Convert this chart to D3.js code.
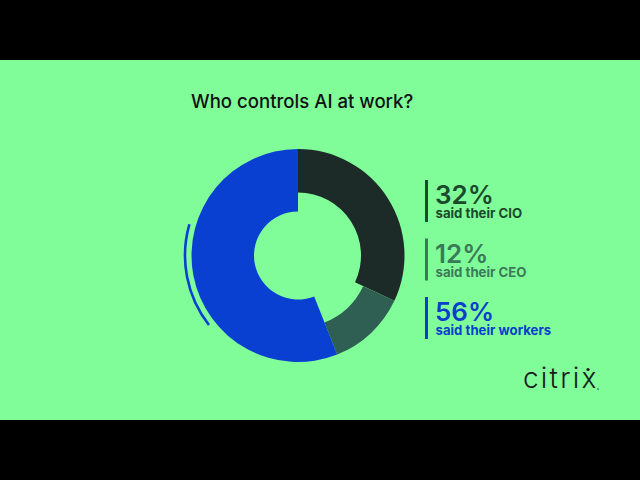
<!DOCTYPE html>
<html>
<head>
<meta charset="utf-8">
<script src="https://cdn.jsdelivr.net/npm/d3@7/dist/d3.min.js"></script>
<style>
  html, body { margin: 0; padding: 0; background: #000; }
  svg { display: block; }
</style>
</head>
<body>
<svg id="chart" width="640" height="480"></svg>
<script>
// ---- data ----
const title = "Who controls AI at work?";
const categories = ["said their CIO", "said their CEO", "said their workers"];
const values = [32, 12, 56];
const percentLabels = ["32%", "12%", "56%"];

// ---- styles ----
const sliceColors = ["#1c2a28", "#2f5e52", "#0a40d2"];
const legendColors = ["#1a4a2b", "#3b7a58", "#0a3fcc"];
const innerRadii = [63, 72, 44];
const bg = "#80fd99";

const svg = d3.select("#chart");
svg.append("rect").attr("x", 0).attr("y", 0).attr("width", 640).attr("height", 480).attr("fill", "#000");
svg.append("rect").attr("x", 0).attr("y", 60).attr("width", 640).attr("height", 360).attr("fill", bg);

svg.append("text")
  .attr("x", 191).attr("y", 107.5)
  .attr("font-family", "Inter, 'Noto Sans', sans-serif")
  .attr("font-size", 18.6).attr("font-weight", 500)
  .attr("fill", "#111")
  .text(title);

// ---- donut ----
const cx = 298, cy = 255.5, outerR = 106.5;
const g = svg.append("g").attr("transform", `translate(${cx},${cy})`);
const pie = d3.pie().sort(null).value(d => d).startAngle(0).endAngle(2 * Math.PI);
const arcs = pie(values);
g.selectAll("path.slice").data(arcs).join("path")
  .attr("class", "slice")
  .attr("fill", (d, i) => sliceColors[i])
  .attr("d", (d, i) => d3.arc().innerRadius(innerRadii[i]).outerRadius(outerR)(d));

// decorative thin arc alongside the workers slice
const deg = Math.PI / 180;
g.append("path")
  .attr("d", d3.arc().innerRadius(113).outerRadius(113)({startAngle: 232 * deg, endAngle: 286 * deg}))
  .attr("fill", "none")
  .attr("stroke", sliceColors[2])
  .attr("stroke-width", 2.6)
  .attr("stroke-linecap", "round");

// ---- legend ----
const ly = d3.scalePoint().domain(categories).range([180, 297]);
const lg = svg.append("g");
const items = lg.selectAll("g.item").data(categories).join("g")
  .attr("class", "item")
  .attr("transform", d => `translate(425,${ly(d)})`);
items.append("rect")
  .attr("x", 0).attr("y", 0).attr("width", 3).attr("height", 42)
  .attr("fill", (d, i) => legendColors[i]);
const lt = items.append("text")
  .attr("font-family", "Inter, 'Noto Sans', sans-serif")
  .attr("fill", (d, i) => legendColors[i]);
lt.append("tspan")
  .attr("x", 10).attr("y", 24)
  .attr("font-size", 26).attr("font-weight", 600)
  .text((d, i) => percentLabels[i]);
lt.append("tspan")
  .attr("x", 10.5).attr("y", 38.3)
  .attr("font-size", 13.2).attr("font-weight", 700)
  .text(d => d);

// ---- logo ----
const logo = svg.append("g");
logo.append("text")
  .attr("x", 523).attr("y", 387.5)
  .attr("font-family", "Inter, 'Noto Sans', sans-serif")
  .attr("font-size", 28).attr("font-weight", 300)
  .attr("letter-spacing", 2.2)
  .attr("fill", "#1a1a1a")
  .text("citrix");
logo.append("circle").attr("cx", 588).attr("cy", 369.5).attr("r", 1.6).attr("fill", "#1a1a1a");
logo.append("circle").attr("cx", 598).attr("cy", 389).attr("r", 1).attr("fill", "#4a8a5a");
</script>
</body>
</html>
